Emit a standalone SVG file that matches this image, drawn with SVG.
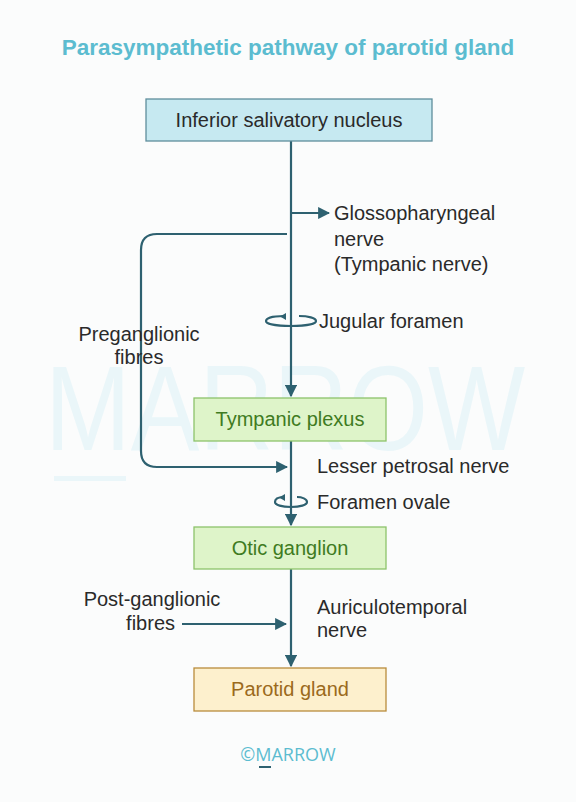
<svg xmlns="http://www.w3.org/2000/svg" width="576" height="802" viewBox="0 0 576 802">
<style>
.t{font-family:"Liberation Sans",Arial,sans-serif;font-size:20px;fill:#2a2a2a}
.ln{fill:none;stroke:#2e6170;stroke-width:2.2}
.box{stroke-width:1.3}
</style>
<defs>
<marker id="ah" viewBox="0 0 10 10" refX="9" refY="5" markerWidth="5.5" markerHeight="5.5" orient="auto" markerUnits="strokeWidth">
<path d="M0,0 L10,5 L0,10 z" fill="#2e6170"/>
</marker>
</defs>
<rect width="576" height="802" fill="#fbfcfc"/>
<g id="watermark">
<text x="45" y="450" textLength="480" lengthAdjust="spacingAndGlyphs" font-family="'Liberation Sans',Arial,sans-serif" font-size="120" fill="#eaf6f9">MARROW</text>
<rect x="54" y="476" width="72" height="5" fill="#eaf6f9"/>
</g>
<text x="288" y="55" text-anchor="middle" font-family="'Liberation Sans',Arial,sans-serif" font-size="22.5" font-weight="bold" fill="#5cbcd0">Parasympathetic pathway of parotid gland</text>
<g id="connectors">
<path class="ln" d="M291,141 V396" marker-end="url(#ah)"/>
<path class="ln" d="M291,213 H329" marker-end="url(#ah)"/>
<path class="ln" d="M287,234 H157 Q141,234 141,250 V451 Q141,467 157,467 H287" marker-end="url(#ah)"/>
<path class="ln" d="M291,441 V525" marker-end="url(#ah)"/>
<path class="ln" d="M291,569 V666" marker-end="url(#ah)"/>
<path class="ln" d="M182,624 H286" marker-end="url(#ah)"/>
<path class="ln" d="M284,316 C270,316 266,319 266,321 C266,324 276,326 291,326 C306,326 316,324 316,321 C316,318 308,316 299,316" stroke-width="2"/>
<path fill="#2e6170" d="M286,313 L280,316.5 L286,320 z"/>
<path class="ln" d="M284,497 C278,497 275,499 275,502 C275,505 282,507 291,507 C300,507 307,505 307,502 C307,499 302,497 297,497" stroke-width="2"/>
<path fill="#2e6170" d="M285,494 L279,497.5 L285,501 z"/>
</g>
<g id="inferior-salivatory-nucleus">
<rect class="box" x="146" y="99" width="286" height="42" fill="#c6e9f1" stroke="#5f8e9c"/>
<text class="t" x="289" y="127" text-anchor="middle">Inferior salivatory nucleus</text>
</g>
<g id="glossopharyngeal-label">
<text class="t" x="334" y="220">Glossopharyngeal</text>
<text class="t" x="334" y="246">nerve</text>
<text class="t" x="334" y="271">(Tympanic nerve)</text>
</g>
<g id="preganglionic-label">
<text class="t" x="139" y="341" text-anchor="middle">Preganglionic</text>
<text class="t" x="139" y="364" text-anchor="middle">fibres</text>
</g>
<g id="jugular-label">
<text class="t" x="319" y="328">Jugular foramen</text>
</g>
<g id="tympanic-plexus">
<rect class="box" x="194" y="398" width="192" height="43" fill="#def4c9" stroke="#8cc36b"/>
<text class="t" x="290" y="426" text-anchor="middle" style="fill:#3f7b22">Tympanic plexus</text>
</g>
<g id="lesser-petrosal-label">
<text class="t" x="317" y="473">Lesser petrosal nerve</text>
</g>
<g id="foramen-ovale-label">
<text class="t" x="317" y="509">Foramen ovale</text>
</g>
<g id="otic-ganglion">
<rect class="box" x="194" y="527" width="192" height="42" fill="#def4c9" stroke="#8cc36b"/>
<text class="t" x="290" y="555" text-anchor="middle" style="fill:#3f7b22">Otic ganglion</text>
</g>
<g id="post-ganglionic-label">
<text class="t" x="152" y="606" text-anchor="middle">Post-ganglionic</text>
<text class="t" x="175" y="630" text-anchor="end">fibres</text>
</g>
<g id="auriculotemporal-label">
<text class="t" x="317" y="614">Auriculotemporal</text>
<text class="t" x="317" y="637">nerve</text>
</g>
<g id="parotid-gland">
<rect class="box" x="194" y="668" width="192" height="43" fill="#fdf0cd" stroke="#b98c3c"/>
<text class="t" x="290" y="696" text-anchor="middle" style="fill:#9b6a1c">Parotid gland</text>
</g>
<g id="copyright">
<text x="288" y="761" text-anchor="middle" font-family="'Open Sans','Liberation Sans',sans-serif" font-size="18" fill="#5cbcd0">©MARROW</text>
<rect x="259" y="766" width="12" height="2" fill="#2e6170"/>
</g>
</svg>
